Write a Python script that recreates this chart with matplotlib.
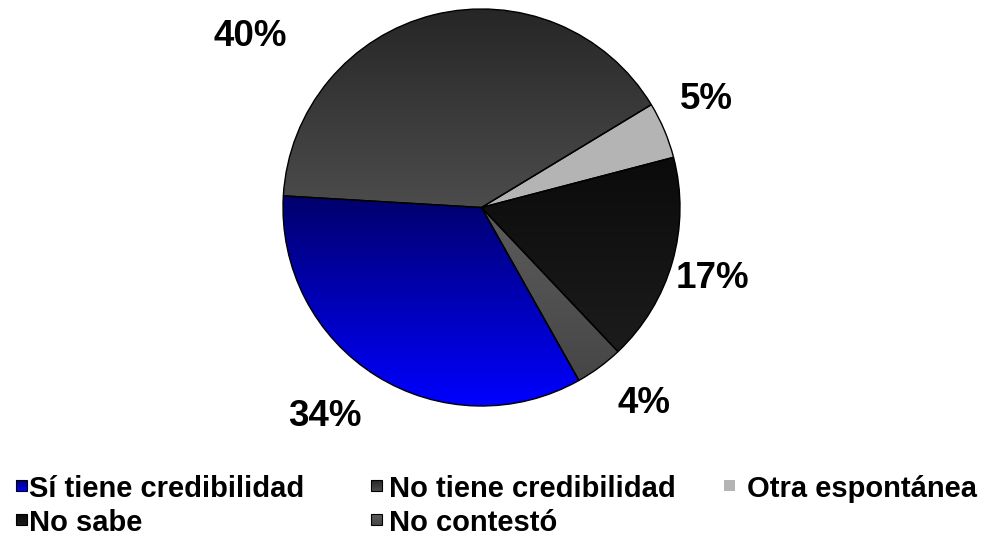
import numpy as np
import matplotlib.pyplot as plt
from matplotlib.colors import to_rgb
from matplotlib.patches import Rectangle

# data
labels = ["Sí tiene credibilidad", "No tiene credibilidad", "Otra espontánea",
          "No sabe", "No contestó"]
values = [34.1, 40.4, 4.6, 17.0, 3.9]

# gradient colours (top, bottom) per slice
top_colors = ["#00006c", "#262626", "#b4b4b4", "#0b0b0b", "#5c5c5c"]
bottom_colors = ["#0000ff", "#4c4c4c", "#b4b4b4", "#1c1c1c", "#464646"]

W, H = 995, 545
plt.rcParams['font.family'] = ['Liberation Sans', 'DejaVu Sans']


def gradient(top, bottom, n=256):
    t = np.linspace(0, 1, n)[:, None]
    b = np.array(to_rgb(bottom))
    a = np.array(to_rgb(top))
    return (b + (a - b) * t)[:, None, :]


fig = plt.figure(figsize=(W / 100, H / 100), dpi=100)
ax = fig.add_axes([0, 0, 1, 1])

cx, cy, rad = 481.5, H - 207.5, 198.5
wedges, _ = ax.pie(values, center=(cx, cy), radius=rad, startangle=299.4,
                   counterclock=False,
                   wedgeprops=dict(edgecolor="black", linewidth=1.0))

for w, tc, bc in zip(wedges, top_colors, bottom_colors):
    w.set_facecolor("none")
    w.set_zorder(3)
    bb = w.get_path().get_extents()
    im = ax.imshow(gradient(tc, bc), extent=[bb.x0, bb.x1, bb.y0, bb.y1],
                   origin="lower", aspect="auto", zorder=2, interpolation="bilinear")
    im.set_clip_path(w)

# percentage labels (x centre, baseline in image pixels)
lab_x = [324.5, 250, 706, 712.5, 644]
lab_base = [426, 46, 109, 288, 413]
for v, x, yb in zip(values, lab_x, lab_base):
    ax.text(x, H - yb, f"{v:.0f}%", ha="center", va="baseline",
            fontsize=26.5, fontweight="bold", color="black")

# legend, laid out row-wise like the original
mk_left = [16, 371, 724, 16, 371]
txt_left = [29, 389, 747, 29, 389]
rows = [0, 0, 0, 1, 1]
row_base = [497, 531]
mk_size = 11
for i, lab in enumerate(labels):
    yb = row_base[rows[i]]
    mtop = yb - 17
    ec = "none" if i == 2 else "black"
    sq = Rectangle((mk_left[i], H - mtop - mk_size), mk_size, mk_size,
                   facecolor="none", edgecolor=ec, linewidth=0.8, zorder=4)
    ax.add_patch(sq)
    im = ax.imshow(gradient(top_colors[i], bottom_colors[i]),
                   extent=[mk_left[i], mk_left[i] + mk_size, H - mtop - mk_size, H - mtop],
                   origin="lower", aspect="auto", zorder=3)
    im.set_clip_path(sq)
    ax.text(txt_left[i], H - yb, lab, ha="left", va="baseline",
            fontsize=21, fontweight="bold", color="black")

ax.set_xlim(0, W)
ax.set_ylim(0, H)
ax.set_aspect("equal")
ax.axis("off")

fig.savefig("out.png", dpi=100, facecolor="white")
